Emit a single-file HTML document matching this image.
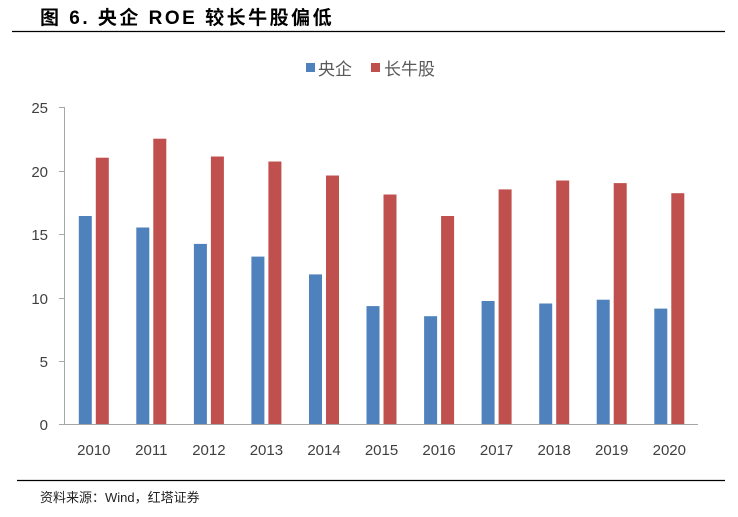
<!DOCTYPE html>
<html><head><meta charset="utf-8"><style>
html,body{margin:0;padding:0;background:#fff;}
svg{display:block;}
text{font-family:"Liberation Sans","Noto Sans CJK SC",sans-serif;}
</style></head><body>
<svg width="738" height="517" viewBox="0 0 738 517" xmlns="http://www.w3.org/2000/svg">
<text x="40" y="24" font-size="19" font-weight="bold" letter-spacing="2.5" fill="#000">图 6. 央企 ROE 较长牛股偏低</text>
<line x1="12" y1="31.5" x2="725" y2="31.5" stroke="#000" stroke-width="1.2"/>
<rect x="306" y="63" width="9" height="9" fill="#4f81bd"/>
<text x="318" y="75" font-size="17" fill="#595959">央企</text>
<rect x="371" y="63" width="9" height="9" fill="#c0504d"/>
<text x="384" y="75" font-size="17" fill="#595959">长牛股</text>
<g stroke="#a6a6a6" stroke-width="1">
<line x1="64.5" y1="107" x2="64.5" y2="424.5"/>
<line x1="64" y1="424.5" x2="698" y2="424.5"/>
<line x1="59" y1="107.5" x2="64" y2="107.5"/>
<line x1="59" y1="171.5" x2="64" y2="171.5"/>
<line x1="59" y1="234.5" x2="64" y2="234.5"/>
<line x1="59" y1="298.5" x2="64" y2="298.5"/>
<line x1="59" y1="361.5" x2="64" y2="361.5"/>
<line x1="59" y1="424.5" x2="64" y2="424.5"/>
</g>
<g font-size="15" fill="#404040" text-anchor="end">
<text x="48" y="113">25</text><text x="48" y="177">20</text><text x="48" y="240">15</text>
<text x="48" y="304">10</text><text x="48" y="367">5</text><text x="48" y="430">0</text>
</g>
<g fill="#4f81bd">
<rect x="78.8" y="216" width="13" height="208"/>
<rect x="136.3" y="227.5" width="13" height="196.5"/>
<rect x="193.9" y="243.9" width="13" height="180.1"/>
<rect x="251.4" y="256.6" width="13" height="167.4"/>
<rect x="309" y="274.4" width="13" height="149.6"/>
<rect x="366.5" y="306.1" width="13" height="117.9"/>
<rect x="424.1" y="316.2" width="13" height="107.8"/>
<rect x="481.6" y="301" width="13" height="123"/>
<rect x="539.2" y="303.5" width="13" height="120.5"/>
<rect x="596.7" y="299.7" width="13" height="124.3"/>
<rect x="654.3" y="308.6" width="13" height="115.4"/>
</g>
<g fill="#c0504d">
<rect x="95.8" y="157.7" width="13" height="266.3"/>
<rect x="153.3" y="138.7" width="13" height="285.3"/>
<rect x="210.9" y="156.5" width="13" height="267.5"/>
<rect x="268.4" y="161.5" width="13" height="262.5"/>
<rect x="326" y="175.5" width="13" height="248.5"/>
<rect x="383.5" y="194.5" width="13" height="229.5"/>
<rect x="441.1" y="216" width="13" height="208"/>
<rect x="498.6" y="189.4" width="13" height="234.6"/>
<rect x="556.2" y="180.5" width="13" height="243.5"/>
<rect x="613.7" y="183.1" width="13" height="240.9"/>
<rect x="671.3" y="193.2" width="13" height="230.8"/>
</g>
<g font-size="15" fill="#404040" text-anchor="middle">
<text x="93.8" y="455">2010</text><text x="151.3" y="455">2011</text><text x="208.9" y="455">2012</text>
<text x="266.4" y="455">2013</text><text x="324" y="455">2014</text><text x="381.5" y="455">2015</text>
<text x="439.1" y="455">2016</text><text x="496.6" y="455">2017</text><text x="554.2" y="455">2018</text>
<text x="611.7" y="455">2019</text><text x="669.3" y="455">2020</text>
</g>
<line x1="17" y1="480.5" x2="725" y2="480.5" stroke="#000" stroke-width="1.2"/>
<text x="40" y="502" font-size="13" fill="#222">资料来源：Wind，红塔证券</text>
</svg>
</body></html>
